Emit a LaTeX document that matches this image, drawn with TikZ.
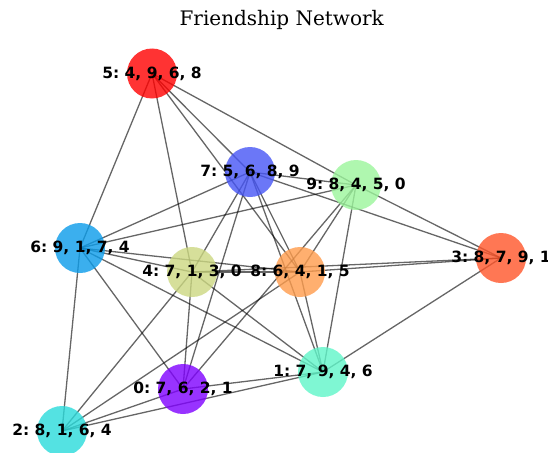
\documentclass[tikz,border=0pt]{standalone}
\usepackage{fontspec}
\newfontfamily\labfont{DejaVu Sans}
\newfontfamily\titlefont{DejaVu Serif}
\frenchspacing
\definecolor{c0}{HTML}{7F00FF}
\definecolor{c1}{HTML}{60F6C9}
\definecolor{c2}{HTML}{2ADBDB}
\definecolor{c3}{HTML}{FF552A}
\definecolor{c4}{HTML}{CCD881}
\definecolor{c5}{HTML}{FF0000}
\definecolor{c6}{HTML}{0B9CEA}
\definecolor{c7}{HTML}{4655F5}
\definecolor{c8}{HTML}{FF9C4C}
\definecolor{c9}{HTML}{9CF69C}
\tikzset{
  vtx/.style={circle, minimum size=50pt, inner sep=0pt, draw=none, fill opacity=0.8},
  lbl/.style={font=\labfont\bfseries\fontsize{15.5}{18}\selectfont, inner sep=0pt, text=black},
  edge/.style={draw=black, opacity=0.6, line width=1.3pt}
}
\begin{document}
\begin{tikzpicture}[x=1pt,y=-1pt]
\fill[white] (0,0) rectangle (556,452);
\useasboundingbox (0,0) rectangle (556,452);
\clip (0,0) rectangle (547.5,452);
\coordinate (p0) at (183,389);
\coordinate (p1) at (323,372);
\coordinate (p2) at (62,431);
\coordinate (p3) at (501,258);
\coordinate (p4) at (192,272);
\coordinate (p5) at (152,73.5);
\coordinate (p6) at (80,248);
\coordinate (p7) at (250,172);
\coordinate (p8) at (300,272);
\coordinate (p9) at (356,185);
\foreach \a/\b in {0/7,0/6,0/2,0/1,0/4,0/9,1/7,1/9,1/4,1/6,1/2,1/3,1/8,2/8,2/6,2/4,3/8,3/7,3/9,3/4,4/7,4/5,4/6,4/8,5/9,5/6,5/8,5/7,6/9,6/7,6/8,7/8,7/9,8/9}
  \draw[edge] (p\a) -- (p\b);
\foreach \i in {0,...,9}
  \node[vtx, fill=c\i] (n\i) at (p\i) {};
\node[lbl] (t0) at (p0) {0: 7, 6, 2, 1};
\node[lbl] (t1) at (p1) {1: 7, 9, 4, 6};
\node[lbl] (t2) at (p2) {2: 8, 1, 6, 4};
\node[lbl] (t3) at (p3) {3: 8, 7, 9, 1};
\node[lbl] (t4) at (p4) {4: 7, 1, 3, 0};
\node[lbl] (t5) at (p5) {5: 4, 9, 6, 8};
\node[lbl] (t6) at (p6) {6: 9, 1, 7, 4};
\node[lbl] (t7) at (p7) {7: 5, 6, 8, 9};
\node[lbl] (t8) at (p8) {8: 6, 4, 1, 5};
\node[lbl] (t9) at (p9) {9: 8, 4, 5, 0};
\node[font=\titlefont\fontsize{20}{24}\selectfont, inner sep=0pt, anchor=base] (title) at (281.7,26) {Friendship Network};
\end{tikzpicture}
\end{document}
